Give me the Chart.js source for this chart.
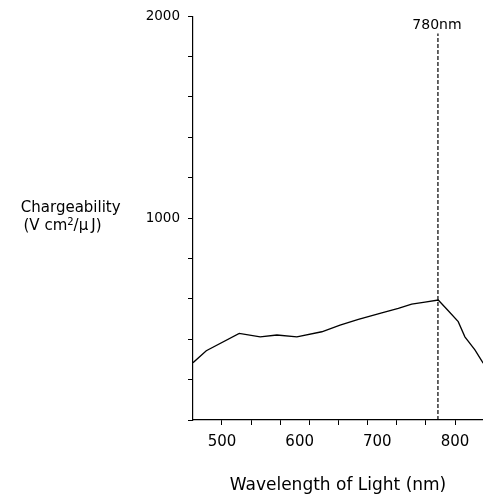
<!DOCTYPE html>
<html><head><meta charset="utf-8">
<script src="https://cdn.jsdelivr.net/npm/chart.js@4/dist/chart.umd.min.js"></script>
<style>html,body{margin:0;padding:0;background:#fff;overflow:hidden;}</style>
</head><body>
<canvas id="c" width="483" height="498"></canvas>
<script>
// ---- data ----
const wavelengths   = [462.7, 479.8, 522.2, 549.2, 570.7, 596.4, 628.5, 652, 675.6, 705.7, 727, 744.2, 761.3, 778.4, 791.3, 804.1, 812.7, 825.6, 834.2, 836.3];
const chargeability = [284,   343,   429,   412,   421,   412,   437,   470, 498,   531,   553, 574,   584,   594,   541,   487,   412,   347,   294,   281];
const markerWavelength = [778, 778];
const markerValues     = [0, 1914];
const markerLabel = '780nm';
const xTickMarks  = [500, 537.5, 575, 612.5, 650, 687.5, 725, 762.5, 800];
const xTickLabels = [500, 600, 700, 800];
const yTickMarks  = [0, 200, 400, 600, 800, 1000, 1200, 1400, 1600, 1800, 2000];
const yTickLabels = [1000, 2000];
const xTitle = 'Wavelength of Light (nm)';
const yTitleLine1 = 'Chargeability';
const yTitleLine2 = ['(V cm', '2', '/\u03bc', '\u2009J)'];

const FONT = "'DejaVu Sans', sans-serif";

const titlePlugin = {
  id: 'titles',
  afterDraw(chart) {
    const ctx = chart.ctx;
    const a = chart.chartArea;
    ctx.save();
    ctx.fillStyle = '#000';
    ctx.textBaseline = 'alphabetic';
    // x title
    ctx.font = "17px " + FONT;
    ctx.textAlign = 'center';
    ctx.fillText(xTitle, (a.left + a.right) / 2, 489.5);
    // y title line 1
    ctx.font = "15px " + FONT;
    ctx.fillText(yTitleLine1, 70.7, 211.7);
    // y title line 2 with superscript
    ctx.textAlign = 'left';
    const big = "15px " + FONT, small = "10px " + FONT;
    ctx.font = big; const w0 = ctx.measureText(yTitleLine2[0]).width;
    ctx.font = small; const w1 = ctx.measureText(yTitleLine2[1]).width;
    ctx.font = big; const w2 = ctx.measureText(yTitleLine2[2]).width;
    const w3 = ctx.measureText(yTitleLine2[3]).width;
    let x = 62.5 - (w0 + w1 + w2 + w3) / 2;
    const base = 230;
    ctx.font = big; ctx.fillText(yTitleLine2[0], x, base); x += w0;
    ctx.font = small; ctx.fillText(yTitleLine2[1], x, base - 5.5); x += w1;
    ctx.font = big; ctx.fillText(yTitleLine2[2], x, base); x += w2;
    ctx.fillText(yTitleLine2[3], x, base);
    // marker label
    ctx.font = "14px " + FONT;
    ctx.textAlign = 'center';
    const mx = chart.scales.x.getPixelForValue(markerWavelength[0]);
    ctx.fillText(markerLabel, mx - 1, 29.3);
    ctx.restore();
  }
};

new Chart(document.getElementById('c'), {
  type: 'line',
  data: {
    datasets: [
      {
        data: wavelengths.map((w, i) => ({ x: w, y: chargeability[i] })),
        borderColor: '#000', borderWidth: 1.3, pointRadius: 0, tension: 0, fill: false
      },
      {
        data: markerWavelength.map((w, i) => ({ x: w, y: markerValues[i] })),
        borderColor: '#000', borderWidth: 1.2, borderDash: [4, 2], pointRadius: 0, tension: 0, fill: false
      }
    ]
  },
  options: {
    responsive: false,
    animation: false,
    devicePixelRatio: 1,
    layout: { padding: { top: 16, right: 0, bottom: 0, left: 0 } },
    plugins: { legend: { display: false }, tooltip: { enabled: false }, title: { display: false } },
    scales: {
      x: {
        type: 'linear', position: 'bottom', min: 462.7, max: 836,
        afterBuildTicks: s => {
          const vals = [...new Set([...xTickMarks, ...xTickLabels])].sort((a, b) => a - b);
          s.ticks = vals.map(v => ({ value: v }));
        },
        afterFit: s => { s.height = 78; },
        ticks: {
          autoSkip: false, maxRotation: 0, minRotation: 0, color: '#000', padding: 8,
          font: { family: FONT, size: 15 },
          callback: v => xTickLabels.includes(v) ? String(v) : ''
        },
        grid: {
          drawOnChartArea: false, drawTicks: true, tickLength: 5, tickWidth: 1,
          tickColor: c => (c.tick && xTickMarks.includes(c.tick.value)) ? '#000' : 'rgba(0,0,0,0)'
        },
        border: { display: true, color: '#000', width: 1.2 }
      },
      y: {
        type: 'linear', position: 'left', min: 0, max: 2000,
        afterBuildTicks: s => { s.ticks = yTickMarks.map(v => ({ value: v })); },
        afterFit: s => { s.width = 193; },
        ticks: {
          autoSkip: false, color: '#000', padding: 8,
          font: { family: FONT, size: 13.5 },
          callback: v => yTickLabels.includes(v) ? String(v) : ''
        },
        grid: { drawOnChartArea: false, drawTicks: true, tickLength: 5, tickWidth: 1, tickColor: '#000' },
        border: { display: true, color: '#000', width: 1.2 }
      }
    }
  },
  plugins: [titlePlugin]
});
</script>
</body></html>
